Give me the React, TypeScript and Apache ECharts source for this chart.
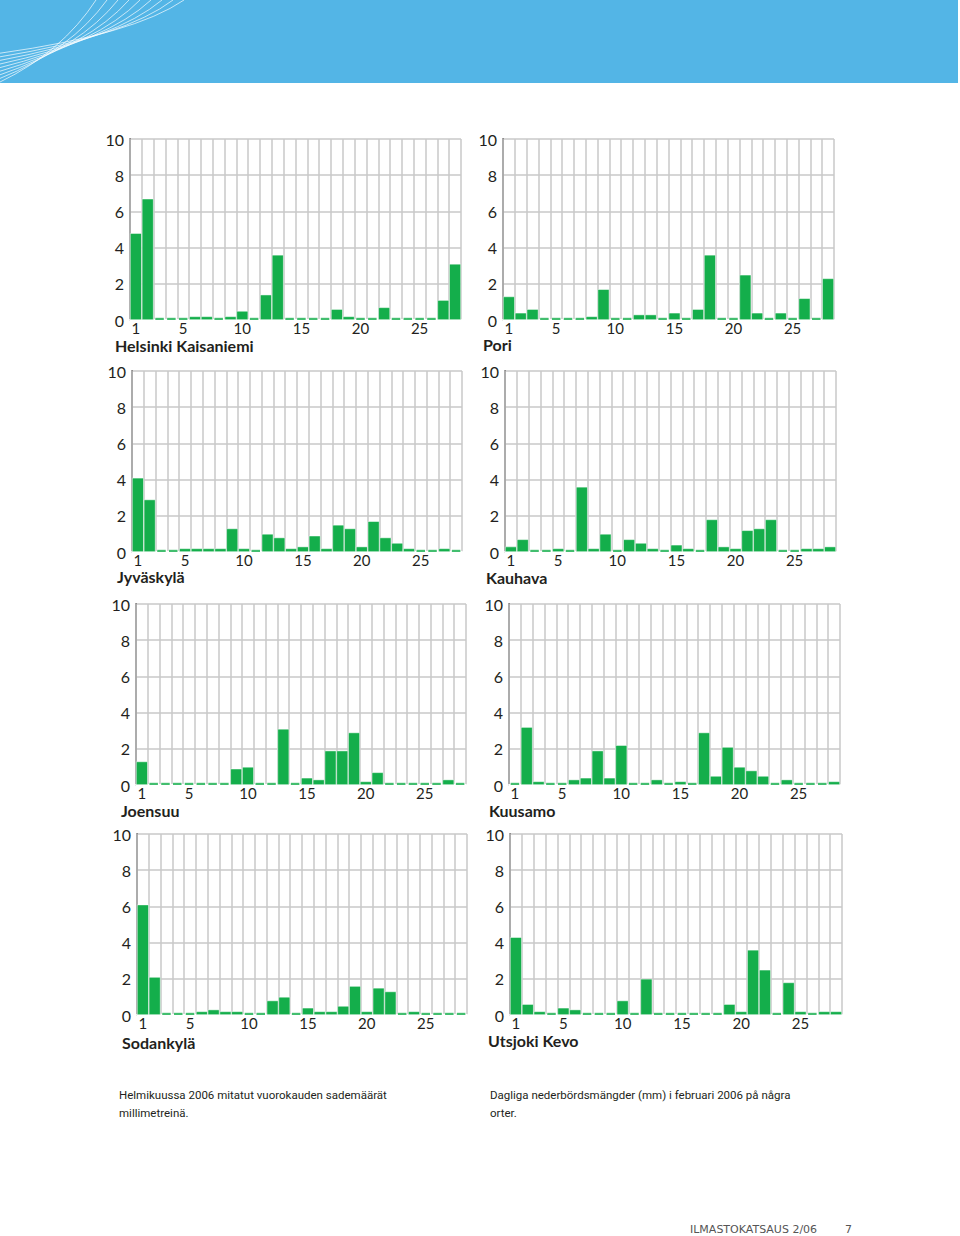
import React, { useEffect, useRef } from "react";
import * as echarts from "echarts";

const days = ["1","2","3","4","5","6","7","8","9","10","11","12","13","14","15","16","17","18","19","20","21","22","23","24","25","26","27","28"];
const labelledDays = ["1", "5", "10", "15", "20", "25"];

const helsinki = [4.8,6.7,0,0,0,0.2,0.2,0,0.2,0.5,0,1.4,3.6,0,0,0,0,0.6,0.2,0,0,0.7,0,0,0,0,1.1,3.1];
const pori = [1.3,0.4,0.6,0,0,0,0,0.2,1.7,0,0,0.3,0.3,0,0.4,0,0.6,3.6,0,0,2.5,0.4,0,0.4,0,1.2,0,2.3];
const jyvaskyla = [4.1,2.9,0,0,0.2,0.2,0.2,0.2,1.3,0.2,0,1.0,0.8,0.2,0.3,0.9,0.2,1.5,1.3,0.3,1.7,0.8,0.5,0.2,0,0,0.2,0];
const kauhava = [0.3,0.7,0,0,0.2,0,3.6,0.2,1.0,0,0.7,0.5,0.2,0,0.4,0.2,0,1.8,0.3,0.2,1.2,1.3,1.8,0,0,0.2,0.2,0.3];
const joensuu = [1.3,0,0,0,0,0,0,0,0.9,1.0,0,0,3.1,0,0.4,0.3,1.9,1.9,2.9,0.2,0.7,0,0,0,0,0,0.3,0];
const kuusamo = [0,3.2,0.2,0,0,0.3,0.4,1.9,0.4,2.2,0,0,0.3,0,0.2,0,2.9,0.5,2.1,1.0,0.8,0.5,0,0.3,0,0,0,0.2];
const sodankyla = [6.1,2.1,0,0,0,0.2,0.3,0.2,0.2,0,0,0.8,1.0,0,0.4,0.2,0.2,0.5,1.6,0.2,1.5,1.3,0,0.2,0,0,0,0];
const utsjoki = [4.3,0.6,0.2,0,0.4,0.3,0,0,0,0.8,0,2.0,0,0,0,0,0,0,0.6,0.2,3.6,2.5,0,1.8,0.2,0,0.2,0.2];

const stationNames = ["Helsinki Kaisaniemi", "Pori", "Jyväskylä", "Kauhava", "Joensuu", "Kuusamo", "Sodankylä", "Utsjoki Kevo"];
const stationValues = [helsinki, pori, jyvaskyla, kauhava, joensuu, kuusamo, sodankyla, utsjoki];

const captionFi = ["Helmikuussa 2006 mitatut vuorokauden sademäärät", "millimetreinä."];
const captionSv = ["Dagliga nederbördsmängder (mm) i februari 2006 på några", "orter."];
const footerText = "ILMASTOKATSAUS 2/06";
const pageNumber = "7";

// layout (positions only)
const layout = [
  { left: 130, top: 139, width: 331, height: 181, tx: 115, ty: 345 },
  { left: 503, top: 139, width: 331, height: 181, tx: 483, ty: 344 },
  { left: 132, top: 371, width: 330, height: 181, tx: 117, ty: 576 },
  { left: 505, top: 371, width: 331, height: 181, tx: 486, ty: 577 },
  { left: 136, top: 604, width: 330, height: 181, tx: 121, ty: 810 },
  { left: 509, top: 604, width: 331, height: 181, tx: 489, ty: 810 },
  { left: 137, top: 834, width: 330, height: 181, tx: 122, ty: 1042 },
  { left: 510, top: 834, width: 332, height: 181, tx: 488, ty: 1040 },
];

const GREEN = "#14ae4b";
const GRID = "#c9c9c9";
const INK = "#231f20";
const NUM_FONT = "Lato, 'Liberation Sans', sans-serif";

export default function App() {
  const ref = useRef<HTMLDivElement>(null);

  useEffect(() => {
    document.body.style.margin = "0";
    if (!ref.current) return;
    const chart = echarts.init(ref.current, undefined, { renderer: "svg" });

    const grids: any[] = [];
    const xAxes: any[] = [];
    const yAxes: any[] = [];
    const series: any[] = [];
    const graphic: any[] = [];

    // header band
    graphic.push({
      type: "rect",
      shape: { x: 0, y: 0, width: 958, height: 83 },
      style: { fill: "#53b5e6" },
      silent: true,
    });
    for (let i = 0; i < 9; i++) {
      graphic.push({
        type: "bezierCurve",
        shape: {
          x1: 0,
          y1: 82 - i * 3.6,
          cpx1: 62 + i * 9,
          cpy1: 52 - i * 2.2,
          x2: 96 + i * 11,
          y2: 0,
        },
        style: { stroke: "rgba(255,255,255,0.85)", lineWidth: 0.8, fill: "none" },
        silent: true,
      });
    }

    stationNames.forEach((name, k) => {
      const L = layout[k];
      const vals = stationValues[k];
      grids.push({ left: L.left, top: L.top, width: L.width, height: L.height, containLabel: false });
      xAxes.push({
        type: "category",
        gridIndex: k,
        data: days,
        boundaryGap: true,
        z: 1,
        axisLine: { show: true, lineStyle: { color: "#ffffff", width: 2 } },
        axisTick: { show: false },
        axisLabel: {
          interval: (_idx: number, val: string) => labelledDays.includes(val),
          color: INK,
          fontSize: 15,
          lineHeight: 11,
          fontFamily: NUM_FONT,
          margin: 2,
        },
        splitLine: { show: true, interval: 0, lineStyle: { color: GRID, width: 1.5 } },
      });
      yAxes.push({
        type: "value",
        gridIndex: k,
        min: 0,
        max: 10,
        interval: 2,
        axisLine: { show: true, lineStyle: { color: INK, width: 1.5 } },
        axisTick: { show: false },
        axisLabel: { color: INK, fontSize: 16, lineHeight: 12, fontFamily: NUM_FONT, margin: 6 },
        splitLine: { show: true, lineStyle: { color: GRID, width: 1.5 } },
      });
      series.push({
        type: "bar",
        xAxisIndex: k,
        yAxisIndex: k,
        data: vals.map((v) => (v === 0 ? "-" : v)),
        barCategoryGap: "0%",
        itemStyle: { color: GREEN, borderColor: "rgba(255,255,255,0.8)", borderWidth: 0.6 },
        silent: true,
        z: 3,
      });
      series.push({
        type: "scatter",
        xAxisIndex: k,
        yAxisIndex: k,
        data: vals.map((v, i) => (v === 0 ? [days[i], 0] : null)).filter((d) => d !== null),
        symbol: "rect",
        symbolSize: [8.5, 2.2],
        symbolOffset: [0, -1.1],
        itemStyle: { color: GREEN },
        silent: true,
        z: 3,
      });
      graphic.push({
        type: "text",
        x: L.tx,
        y: L.ty,
        style: {
          text: name,
          fill: INK,
          font: "bold 16px Lato, 'Liberation Sans', sans-serif",
          lineHeight: 12,
          textVerticalAlign: "middle",
          textAlign: "left",
        },
        silent: true,
      });
    });

    const captionFont = "11.5px Roboto, 'Noto Sans', sans-serif";
    captionFi.forEach((t, i) => {
      graphic.push({
        type: "text",
        x: 119,
        y: 1095 + i * 18,
        style: { text: t, fill: INK, font: captionFont, textVerticalAlign: "middle" },
        silent: true,
      });
    });
    captionSv.forEach((t, i) => {
      graphic.push({
        type: "text",
        x: 490,
        y: 1095 + i * 18,
        style: { text: t, fill: INK, font: captionFont, textVerticalAlign: "middle" },
        silent: true,
      });
    });
    graphic.push({
      type: "text",
      x: 690,
      y: 1229,
      style: { text: footerText, fill: "#555555", font: "11px 'DejaVu Sans', sans-serif", textVerticalAlign: "middle" },
      silent: true,
    });
    graphic.push({
      type: "text",
      x: 845,
      y: 1229,
      style: { text: pageNumber, fill: "#555555", font: "11px 'DejaVu Sans', sans-serif", textVerticalAlign: "middle" },
      silent: true,
    });

    chart.setOption({
      animation: false,
      backgroundColor: "#ffffff",
      grid: grids,
      xAxis: xAxes,
      yAxis: yAxes,
      series,
      graphic,
    });

    return () => {
      chart.dispose();
    };
  }, []);

  return <div ref={ref} style={{ width: 960, height: 1236 }} />;
}
